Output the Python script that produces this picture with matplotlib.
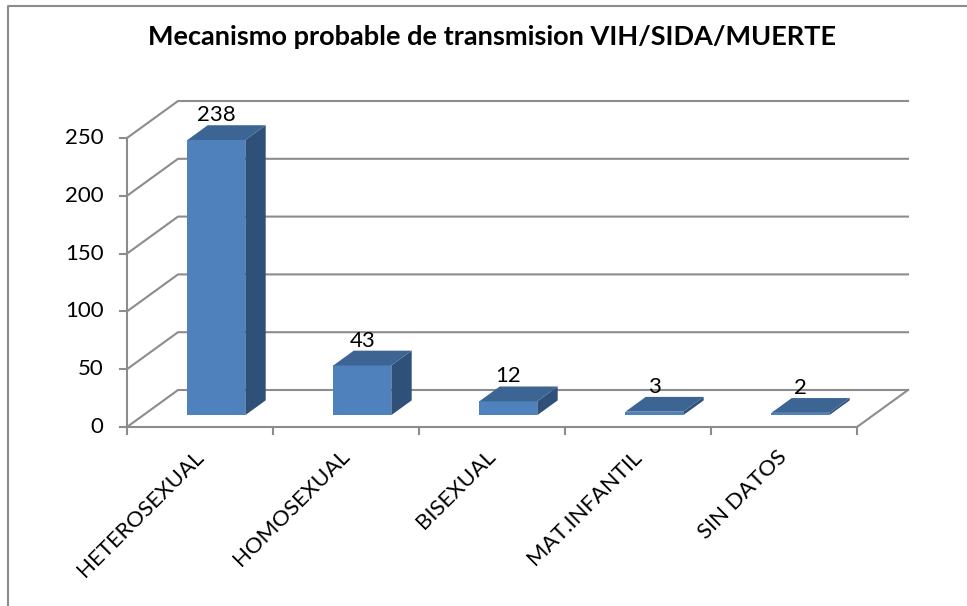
import matplotlib
matplotlib.use("Agg")
import matplotlib.pyplot as plt
from matplotlib.patches import Polygon
from matplotlib.lines import Line2D

categories = ["HETEROSEXUAL", "HOMOSEXUAL", "BISEXUAL", "MAT.INFANTIL", "SIN DATOS"]
values = [238, 43, 12, 3, 2]
yticks = [0, 50, 100, 150, 200, 250]
title = "Mecanismo probable de transmision VIH/SIDA/MUERTE"

plt.rcParams['font.family'] = ['Lato', 'DejaVu Sans']

W, H = 967, 606
fig = plt.figure(figsize=(W / 100, H / 100), dpi=100)
fig.patch.set_facecolor('white')

# axes frame in pixels (front plane)
x0p, x1p, y0p, y1p = 127, 857, 427, 138
ax = fig.add_axes([x0p / W, 1 - y0p / H, (x1p - x0p) / W, (y0p - y1p) / H])
n = len(categories)
ax.set_xlim(0, n)
ax.set_ylim(0, 250)
ax.axis('off')

# depth offsets in data units
DX = 51 / 146.0
DY = 37 / (289 / 250.0)

gc = '#8c8c8c'
glw = 1.5
# walls / gridlines
for v in yticks:
    ax.plot([0, DX, n + DX], [v, v + DY, v + DY], color=gc, lw=glw, clip_on=False, zorder=1)
    ax.plot([-0.05, 0], [v, v], color=gc, lw=glw, clip_on=False, zorder=1)
# floor right edge and front axis
ax.plot([0, n, n + DX], [0, 0, DY], color=gc, lw=glw, clip_on=False, zorder=1)
ax.plot([0, 0], [0, 250], color=gc, lw=glw, clip_on=False, zorder=1)
for i in range(n + 1):
    ax.plot([i, i], [0, -6], color=gc, lw=glw, clip_on=False, zorder=1)

# bars
f0, f1 = 0.32, 0.72
bw = 0.397
front_c = '#4F81BD'
top_c = '#3C6594'
side_c = '#2F5179'
for i, v in enumerate(values):
    cx = i + 0.5 + f0 * DX
    xl, xr = cx - bw / 2, cx + bw / 2
    yb = f0 * DY
    yt = v + f0 * DY
    ddx = (f1 - f0) * DX
    ddy = (f1 - f0) * DY
    front = Polygon([(xl, yb), (xr, yb), (xr, yt), (xl, yt)], closed=True,
                    facecolor=front_c, edgecolor='none', zorder=3, clip_on=False)
    side = Polygon([(xr, yb), (xr + ddx, yb + ddy), (xr + ddx, yt + ddy), (xr, yt)], closed=True,
                   facecolor=side_c, edgecolor='none', zorder=3, clip_on=False)
    top = Polygon([(xl, yt), (xr, yt), (xr + ddx, yt + ddy), (xl + ddx, yt + ddy)], closed=True,
                  facecolor=top_c, edgecolor='none', zorder=3, clip_on=False)
    for p in (front, side, top):
        ax.add_patch(p)
    ax.annotate(str(v), (cx, yt + ddy), xytext=(0, 0), textcoords='offset points',
                ha='center', va='bottom', fontsize=16, color='black', zorder=5,
                annotation_clip=False)

# y tick labels
for v in yticks:
    ax.annotate(str(v), (0, v), xytext=(-17, 0), textcoords='offset points',
                ha='right', va='center', fontsize=16, color='black', annotation_clip=False)

# category labels
for i, c in enumerate(categories):
    ax.annotate(c, (i + 0.5, 0), xytext=(-5, -14), textcoords='offset points',
                ha='right', va='top', rotation=45, rotation_mode='anchor',
                fontsize=16, color='black', annotation_clip=False)

fig.text(492 / W, 1 - 37 / H, title, ha='center', va='center', fontsize=19.5,
         fontweight='bold', color='black')

# chart border
fig.add_artist(Line2D([8 / W, 8 / W, 1.0], [0.0, 1 - 6 / H, 1 - 6 / H],
                      transform=fig.transFigure, color='#8c8c8c', lw=1.5))

fig.savefig('out.png', dpi=100, facecolor='white')
